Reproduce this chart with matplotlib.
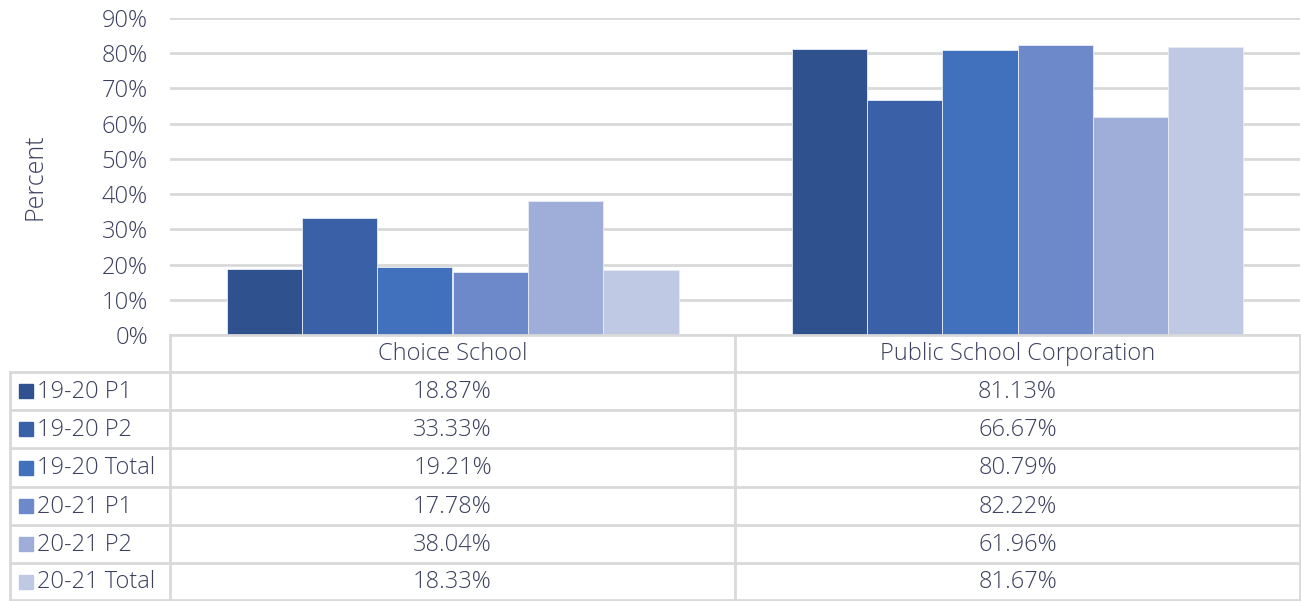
import matplotlib
matplotlib.use("Agg")
import matplotlib.pyplot as plt
from matplotlib.patches import Rectangle

categories = ["Choice School", "Public School Corporation"]
series = ["19-20 P1", "19-20 P2", "19-20 Total", "20-21 P1", "20-21 P2", "20-21 Total"]
values = [
    [18.87, 81.13],
    [33.33, 66.67],
    [19.21, 80.79],
    [17.78, 82.22],
    [38.04, 61.96],
    [18.33, 81.67],
]
colors = ["#2F528F", "#3A60A8", "#4170BC", "#6E89CA", "#9FAED8", "#BFC9E3"]
yticks = [0, 10, 20, 30, 40, 50, 60, 70, 80, 90]

TXT = "#3B405E"
GRID = "#D9D9D9"
FONT = ["Open Sans", "DejaVu Sans"]
plt.rcParams["font.family"] = FONT
FS = 17
FW = "light"

W, H = 1301, 601
fig = plt.figure(figsize=(W / 100, H / 100), dpi=100)

x0, x1, ytop, ybot = 170, 1300, 18, 335
ax = fig.add_axes([x0 / W, 1 - ybot / H, (x1 - x0) / W, (ybot - ytop) / H])
n = len(series)
group_w = 0.8
bw = group_w / n
for i, (s, v, c) in enumerate(zip(series, values, colors)):
    xs = [k - group_w / 2 + bw * (i + 0.5) for k in range(len(categories))]
    ax.bar(xs, v, width=bw, color=c, edgecolor="#E8ECF5", linewidth=0.6, zorder=3)
ax.set_xlim(-0.5, len(categories) - 0.5)
ax.set_ylim(0, 90)
ax.set_yticks(yticks)
ax.set_yticklabels([f"{t}%" for t in yticks], fontsize=FS, color=TXT, fontweight=FW)
ax.set_xticks([])
ax.tick_params(axis="y", length=0, pad=16)
ax.yaxis.grid(True, color=GRID, linewidth=2, zorder=0)
for sp in ax.spines.values():
    sp.set_visible(False)
ax.set_ylabel("Percent", fontsize=FS + 1, color=TXT, fontweight=FW, va="center")
ax.yaxis.set_label_coords((35 - x0) / (x1 - x0), 0.5)

tax = fig.add_axes([0, 0, 1, 1], zorder=5)
tax.set_xlim(0, W)
tax.set_ylim(H, 0)
tax.axis("off")
tax.patch.set_alpha(0)

col_x = [10, 170, 735, 1300]
row_y = [335, 372, 410, 448, 487, 525, 563, 600]
lw = 2
tax.plot([170, 1300], [row_y[0]] * 2, color=GRID, lw=lw)
for y in row_y[1:]:
    tax.plot([10, 1300], [y, y], color=GRID, lw=lw)
tax.plot([10, 10], [row_y[1], row_y[-1]], color=GRID, lw=lw)
for x in col_x[1:]:
    tax.plot([x, x], [row_y[0], row_y[-1]], color=GRID, lw=lw)

for j, cat in enumerate(categories):
    cx = (col_x[j + 1] + col_x[j + 2]) / 2
    tax.text(cx, (row_y[0] + row_y[1]) / 2 + 1, cat, ha="center", va="center",
             fontsize=FS, color=TXT, fontweight=FW)
for i, s in enumerate(series):
    cy = (row_y[i + 1] + row_y[i + 2]) / 2 + 1
    tax.add_patch(Rectangle((19, cy - 8), 14, 14, color=colors[i]))
    tax.text(37, cy, s, ha="left", va="center", fontsize=FS, color=TXT, fontweight=FW)
    for j in range(len(categories)):
        cx = (col_x[j + 1] + col_x[j + 2]) / 2
        tax.text(cx, cy, f"{values[i][j]:.2f}%", ha="center", va="center",
                 fontsize=FS, color=TXT, fontweight=FW)

fig.savefig("out.png", dpi=100)
